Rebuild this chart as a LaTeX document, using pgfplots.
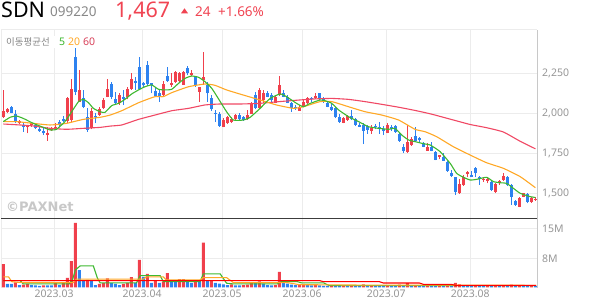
\documentclass[border=0pt]{standalone}
\usepackage{pgfplots}
\pgfplotsset{compat=1.18}
\usepackage{pgfplotstable}
\usepackage{fontspec}
\setmainfont{Noto Sans}
\newfontfamily\kr{Noto Sans CJK KR}
\newfontfamily\wmfont{DejaVu Sans}
\definecolor{cred}{RGB}{240,64,76}
\definecolor{cblue}{RGB}{45,130,240}
\definecolor{hred}{RGB}{240,68,82}
\definecolor{ma5}{RGB}{62,184,48}
\definecolor{ma20}{RGB}{255,168,38}
\definecolor{ma60}{RGB}{240,72,100}
\definecolor{gridc}{RGB}{236,236,236}
\definecolor{axc}{RGB}{200,200,200}
\definecolor{tickc}{RGB}{150,150,150}
\definecolor{hdrgray}{RGB}{136,136,136}
\definecolor{sepc}{RGB}{60,60,60}
\definecolor{wmc}{RGB}{200,200,200}

\pgfplotstableread{
n o h l c
1 1975 2146 1970 2016
2 2005 2031 2000 2025
5 1937 1958 1933 1954
7 1912 1927 1875 1921
8 1925 1948 1916 1937
12 1864 1912 1829 1879
13 1896 1912 1891 1902
14 1906 1937 1896 1916
17 1952 2104 1941 2093
18 1958 2212 1948 2150
20 2073 2270 2073 2146
23 1906 2031 1900 2016
25 1989 2041 1983 2025
26 2031 2093 2025 2083
27 2104 2212 2100 2150
30 2066 2125 2052 2114
32 2100 2166 2087 2150
33 2150 2250 2146 2212
41 2114 2204 2104 2183
43 2177 2250 2166 2191
44 2198 2266 2191 2260
45 2200 2260 2190 2250
46 2177 2266 2177 2260
48 2239 2270 2233 2254
50 2135 2166 2073 2166
51 2208 2385 2177 2225
56 1916 1968 1912 1958
57 1937 1983 1933 1975
58 1948 1975 1941 1962
59 1962 1996 1958 1989
62 1962 2021 1958 1989
63 1996 2073 1996 2062
65 2031 2156 2025 2146
66 2083 2146 2066 2129
69 2066 2114 2062 2100
70 2114 2233 2108 2177
75 2016 2052 2016 2037
76 2041 2083 2037 2073
77 2062 2104 2058 2093
79 2093 2129 2087 2108
86 1941 1979 1937 1968
87 1958 1989 1954 1985
93 1891 1927 1871 1906
97 1879 1937 1875 1927
102 1760 1927 1754 1823
103 1802 1850 1796 1837
107 1766 1812 1766 1791
110 1729 1739 1712 1739
115 1500 1587 1496 1558
116 1552 1614 1546 1604
117 1621 1641 1604 1633
121 1583 1600 1573 1591
122 1579 1604 1562 1591
124 1510 1562 1504 1558
125 1562 1583 1552 1579
126 1583 1629 1579 1608
130 1416 1475 1412 1468
131 1479 1504 1475 1500
133 1448 1475 1442 1468
134 1458 1475 1454 1467
}\up

\pgfplotstableread{
n o h l c
3 2041 2046 2000 2004
4 1996 2021 1941 1948
6 1927 1937 1885 1916
9 1927 1933 1900 1906
10 1900 1912 1885 1887
11 1891 1912 1864 1875
15 1948 1958 1912 1927
16 1964 1983 1948 1952
19 2354 2427 2114 2135
21 2093 2146 2031 2041
22 1979 2031 1885 1896
24 1983 2000 1937 1975
28 2183 2198 2087 2104
29 2087 2135 2052 2062
31 2104 2146 2052 2087
34 2204 2229 2146 2191
35 2291 2354 2146 2150
36 2187 2198 2166 2177
37 2302 2329 2171 2183
38 2187 2191 2125 2177
39 2141 2166 2100 2108
40 2125 2146 2073 2100
42 2233 2287 2198 2204
47 2281 2296 2239 2250
49 2229 2233 2166 2177
52 2177 2198 2073 2125
53 2093 2114 2016 2025
54 2004 2021 1948 1996
55 1996 2010 1916 1921
60 1989 2004 1954 1962
61 1979 1983 1954 1958
64 2114 2135 2025 2031
67 2129 2141 2100 2104
68 2114 2129 2073 2083
71 2125 2146 2100 2104
72 2100 2114 2062 2066
73 2066 2073 2010 2031
74 2041 2052 2021 2031
78 2093 2104 2073 2087
80 2125 2129 2083 2093
81 2087 2100 2066 2073
82 2062 2073 2037 2041
83 2037 2062 2016 2021
84 2031 2041 1968 1975
85 1979 1996 1941 1948
88 1985 2021 1958 1964
89 1962 1968 1921 1927
90 1927 1937 1912 1916
91 1927 1937 1808 1891
92 1921 1927 1871 1896
94 1921 1933 1900 1912
95 1912 1948 1871 1900
96 1900 1921 1864 1891
98 1912 1927 1891 1900
99 1921 1925 1879 1885
100 1871 1879 1823 1829
101 1791 1808 1754 1766
104 1858 1912 1823 1829
105 1844 1850 1823 1833
106 1816 1823 1787 1791
108 1791 1823 1762 1766
109 1760 1762 1706 1708
111 1725 1750 1702 1704
112 1698 1704 1635 1641
113 1625 1646 1604 1608
114 1600 1604 1489 1510
118 1614 1641 1600 1604
119 1656 1666 1600 1625
120 1600 1608 1552 1587
123 1573 1583 1516 1521
127 1604 1606 1546 1552
128 1552 1558 1427 1479
129 1452 1458 1421 1427
132 1496 1504 1437 1448
}\down

\pgfplotstableread{
n v
1 6.2
4 1.3
6 0.7
7 0.9
11 0.5
14 1.1
16 1.1
17 2.5
18 7.0
19 17.2
22 2.0
25 0.9
26 1.1
27 2.4
31 0.9
32 1.2
33 2.7
35 7.3
37 3.6
39 1.7
41 1.5
42 3.8
45 2.2
46 2.2
49 1.8
51 11.9
53 1.9
58 0.8
61 0.6
62 0.7
63 1.3
65 1.6
69 0.6
70 4.1
75 0.8
76 0.9
79 0.6
83 0.5
86 0.6
88 0.6
91 0.8
93 0.5
97 0.6
100 0.7
102 1.1
104 0.6
107 0.5
110 0.4
112 0.6
114 1.2
115 0.8
119 0.5
122 0.4
124 0.5
126 0.6
128 0.7
130 0.5
133 0.4
}\volup

\pgfplotstableread{
n v
2 0.9
3 0.9
5 0.6
8 0.6
9 0.5
10 0.4
12 0.5
13 0.5
15 0.6
20 4.6
21 1.8
23 1.8
24 0.6
28 1.1
29 0.9
30 0.6
34 1.2
36 2.8
38 1.2
40 1.2
43 1.8
44 1.8
47 1.8
48 1.2
50 1.8
52 1.8
54 1.2
55 1.0
56 0.8
57 0.6
59 0.5
60 0.5
64 1.1
66 1.0
67 0.6
68 0.5
71 1.5
72 1.0
73 0.7
74 0.6
77 0.7
78 0.5
80 0.5
81 0.4
82 0.4
84 0.4
85 0.5
87 0.4
89 0.5
90 0.4
92 0.5
94 0.4
95 0.4
96 0.4
98 0.4
99 0.5
101 0.6
103 0.5
105 0.4
106 0.4
108 0.4
109 0.4
111 0.3
113 0.5
116 0.6
117 0.5
118 0.4
120 0.4
121 0.3
123 0.4
125 0.4
127 0.5
129 0.5
131 0.4
132 0.4
134 0.3
}\voldown

\begin{document}
\begin{tikzpicture}[x=1bp,y=1bp]
\useasboundingbox (0,0) rectangle (594,304);

% ---------- header ----------
\node[anchor=base west, inner sep=0pt] at (1,286.7) {\fontsize{21.5bp}{24bp}\selectfont SDN};
\node[anchor=base west, inner sep=0pt, text=hdrgray] at (50,287.3) {\fontsize{13.5bp}{15bp}\selectfont 099220};
\node[anchor=base west, inner sep=0pt, text=hred] at (115,286.7) {\fontsize{21.5bp}{24bp}\selectfont 1,467};
\fill[hred] (181,290.7) -- (188,290.7) -- (184.5,295.7) -- cycle;
\node[anchor=base west, inner sep=0pt, text=hred] at (195,287.3) {\fontsize{13.5bp}{15bp}\selectfont 24};
\node[anchor=base west, inner sep=0pt, text=hred] at (218,287.3) {\fontsize{13.5bp}{15bp}\selectfont +1.66\%};

% ---------- price panel ----------
\begin{axis}[
  at={(1bp,86bp)}, anchor=south west,
  scale only axis, width=536bp, height=188bp,
  xmin=0.425, xmax=134.4, ymin=1345.6, ymax=2520.6,
  axis line style={draw=none},
  clip=false,
  xtick={13.7,35.7,55.7,75.7,96.7,117.7}, xticklabels={},
  ytick={1500,1750,2000,2250},
  yticklabels={{\mbox{1,500}},{\mbox{1,750}},{\mbox{2,000}},{\mbox{2,250}}},
  yticklabel pos=right,
  yticklabel style={font=\fontsize{10.5bp}{12bp}\selectfont, text=tickc, anchor=west, inner sep=0pt, xshift=5bp},
  major tick length=0pt,
  xmajorgrids, ymajorgrids,
  grid style={draw=gridc, line width=1bp},
]
\draw[gridc, line width=1bp] (rel axis cs:0,1) -- (rel axis cs:1,1);
\draw[gridc, line width=1bp] (rel axis cs:0,0) -- (rel axis cs:0,1);
\draw[axc, line width=1bp] (rel axis cs:1,0) -- (rel axis cs:1,1);

\addplot[draw=none, forget plot, error bars/.cd, y dir=plus, y explicit, error mark=none,
  error bar style={draw=cred, line width=1bp}]
  table[x=n, y=l, y error expr=\thisrow{h}-\thisrow{l}] {\up};
\addplot[draw=none, forget plot, error bars/.cd, y dir=plus, y explicit, error mark=none,
  error bar style={draw=cred, line width=3bp}]
  table[x=n, y=o, y error expr=\thisrow{c}-\thisrow{o}] {\up};
\addplot[draw=none, forget plot, error bars/.cd, y dir=plus, y explicit, error mark=none,
  error bar style={draw=cblue, line width=1bp}]
  table[x=n, y=l, y error expr=\thisrow{h}-\thisrow{l}] {\down};
\addplot[draw=none, forget plot, error bars/.cd, y dir=plus, y explicit, error mark=none,
  error bar style={draw=cblue, line width=3bp}]
  table[x=n, y=c, y error expr=\thisrow{o}-\thisrow{c}] {\down};

% MA60
\addplot[ma60, line width=1.1bp, smooth, tension=0.3] coordinates {
(1.0,1933) (5.2,1927) (8.5,1921) (12.7,1906) (16.8,1900) (21.0,1906) (25.2,1912) (27.7,1920) (30.6,1927) (34.8,1962) (38.9,1989) (43.1,2016) (47.3,2031) (51.4,2052) (55,2058) (60,2058) (65,2062) (70,2073) (75,2083) (79,2090) (83.1,2093) (87.3,2087) (91.4,2073) (95.6,2056) (99.8,2038) (103.9,2018) (108,1995) (113.5,1958) (117.7,1930) (121.8,1910) (126.0,1883) (130.2,1825) (134.0,1778)};
% MA20
\addplot[ma20, line width=1.1bp, smooth, tension=0.3] coordinates {
(1.0,1948) (4.3,1948) (8.5,1937) (12.7,1927) (16.8,1937) (21.0,1962) (25.2,1975) (27.7,1989) (30.6,2016) (34.8,2066) (38.9,2104) (41.0,2104) (43.1,2129) (47.3,2166) (51.4,2183) (53.9,2175) (56.8,2146) (61.0,2114) (65.2,2083) (69.3,2052) (73.5,2031) (76.0,2041) (80.2,2073) (83.1,2073) (87.3,2041) (91.4,2010) (95.6,1989) (99.8,1958) (103.9,1900) (106.4,1885) (109.3,1854) (113.5,1791) (117.7,1739) (121.8,1691) (126.0,1656) (130.2,1604) (134.0,1535)};
% MA5
\addplot[ma5, line width=1.1bp, smooth, tension=0.3] coordinates {
(1.0,1948) (2.7,1975) (4.3,1983) (6.0,1968) (8.5,1937) (11.0,1912) (12.7,1896) (14.3,1900) (16.4,1948) (18.1,2010) (19.8,2073) (21.0,2087) (22.3,2066) (23.5,2031) (25.2,2010) (26.4,2006) (28.1,2048) (29.8,2062) (31.4,2087) (33.1,2121) (34.8,2146) (36.4,2166) (38.1,2177) (39.8,2150) (41.4,2146) (43.1,2150) (44.8,2187) (46.4,2218) (48.1,2233) (49.8,2225) (51.4,2198) (53.1,2156) (54.8,2090) (56.8,2010) (58.5,1958) (61.0,1958) (62.7,1975) (65.2,2031) (67.7,2093) (70.2,2121) (71.8,2104) (74.3,2062) (76.0,2041) (77.7,2062) (80.2,2083) (81.4,2079) (83.1,2062) (84.8,2021) (87.3,1979) (89.8,1948) (92.3,1916) (94.8,1906) (97.3,1900) (98.9,1906) (100.6,1864) (102.3,1833) (103.9,1823) (106.4,1808) (107.7,1802) (110.2,1760) (112.7,1687) (114.3,1625) (116.0,1600) (117.7,1583) (119.3,1587) (121.8,1600) (123.5,1573) (125.2,1566) (126.8,1562) (128.5,1531) (130.2,1500) (132.7,1479) (134.0,1474)};
\end{axis}

% label of moving averages and watermark
\fill[white] (4,256) rectangle (97,268);
\node[anchor=base west, inner sep=0pt, text=hdrgray] at (6,259) {\kr\fontsize{9.5bp}{11bp}\selectfont 이동평균선};
\node[anchor=base west, inner sep=0pt, text=ma5] at (59,259) {\fontsize{10.5bp}{12bp}\selectfont 5};
\node[anchor=base west, inner sep=0pt, text=ma20] at (68,259) {\fontsize{10.5bp}{12bp}\selectfont 20};
\node[anchor=base west, inner sep=0pt, text=ma60!90!black] at (83,259) {\fontsize{10.5bp}{12bp}\selectfont 60};
\node[anchor=base west, inner sep=0pt, text=wmc] at (6,92.3) {\wmfont\bfseries\fontsize{13bp}{15bp}\selectfont ©PAXNet};

% ---------- volume panel ----------
\begin{axis}[
  at={(1bp,16bp)}, anchor=south west,
  scale only axis, width=536bp, height=70bp,
  xmin=0.425, xmax=134.4, ymin=-0.187, ymax=18.48,
  axis line style={draw=none},
  clip=false,
  xtick={13.7,35.7,55.7,75.7,96.7,117.7},
  xticklabels={\mbox{2023.03},\mbox{2023.04},\mbox{2023.05},\mbox{2023.06},\mbox{2023.07},\mbox{2023.08}},
  xticklabel style={font=\fontsize{10.5bp}{12bp}\selectfont, text=tickc, anchor=north, inner sep=0pt, yshift=-2bp},
  ytick={7.63,15.55},
  yticklabels={\mbox{8M},\mbox{15M}},
  yticklabel pos=right,
  yticklabel style={font=\fontsize{10.5bp}{12bp}\selectfont, text=tickc, anchor=west, inner sep=0pt, xshift=5bp},
  major tick length=0pt,
  xmajorgrids, ymajorgrids,
  grid style={draw=gridc, line width=1bp},
]
\draw[gridc, line width=1bp] (rel axis cs:0,0) -- (rel axis cs:0,1);
\draw[axc, line width=1bp] (rel axis cs:1,0) -- (rel axis cs:1,1);

\addplot[ybar, bar width=3bp, bar shift=0pt, fill=cred, draw=none] table[x=n, y=v] {\volup};
\addplot[ybar, bar width=3bp, bar shift=0pt, fill=cblue, draw=none] table[x=n, y=v] {\voldown};

\addplot[ma5, line width=1.1bp] coordinates {
(1,1.8) (5.2,1.8) (6,0.9) (17.5,0.9) (18.3,2.0) (19,4.6) (20.2,5.7) (23.5,5.7) (24.5,2.5) (25.2,1.2) (34.3,1.2) (35.2,3.1) (40.2,3.1) (41,1.5) (50.2,1.5) (51,3.6) (55.2,3.6) (56.8,1.1) (58.5,0.9) (69.5,0.9) (70.5,1.5) (74.5,1.5) (75.5,1.2) (81,1.2) (82.5,0.45) (134.2,0.45)};
\addplot[ma20, line width=1.1bp] coordinates {
(1,2.8) (2.3,2.8) (3.1,1.5) (5,1.3) (18.5,1.25) (19.3,2.2) (36,2.2) (36.8,2.8) (41,2.8) (41.7,2.0) (50.2,2.0) (51,2.6) (56.8,2.6) (58.5,1.25) (72,1.25) (75,0.7) (89.4,0.6) (134.2,0.53)};
\addplot[red, line width=1.1bp] coordinates {
(1,1.8) (80,1.8) (81,1.5) (95,1.5) (96,1.15) (105,1.15) (106,0.8) (113,0.8) (114,0.53) (134.2,0.53)};

\draw[sepc, line width=1bp] (rel axis cs:0,1) -- (rel axis cs:1,1);
\end{axis}
\end{tikzpicture}
\end{document}
